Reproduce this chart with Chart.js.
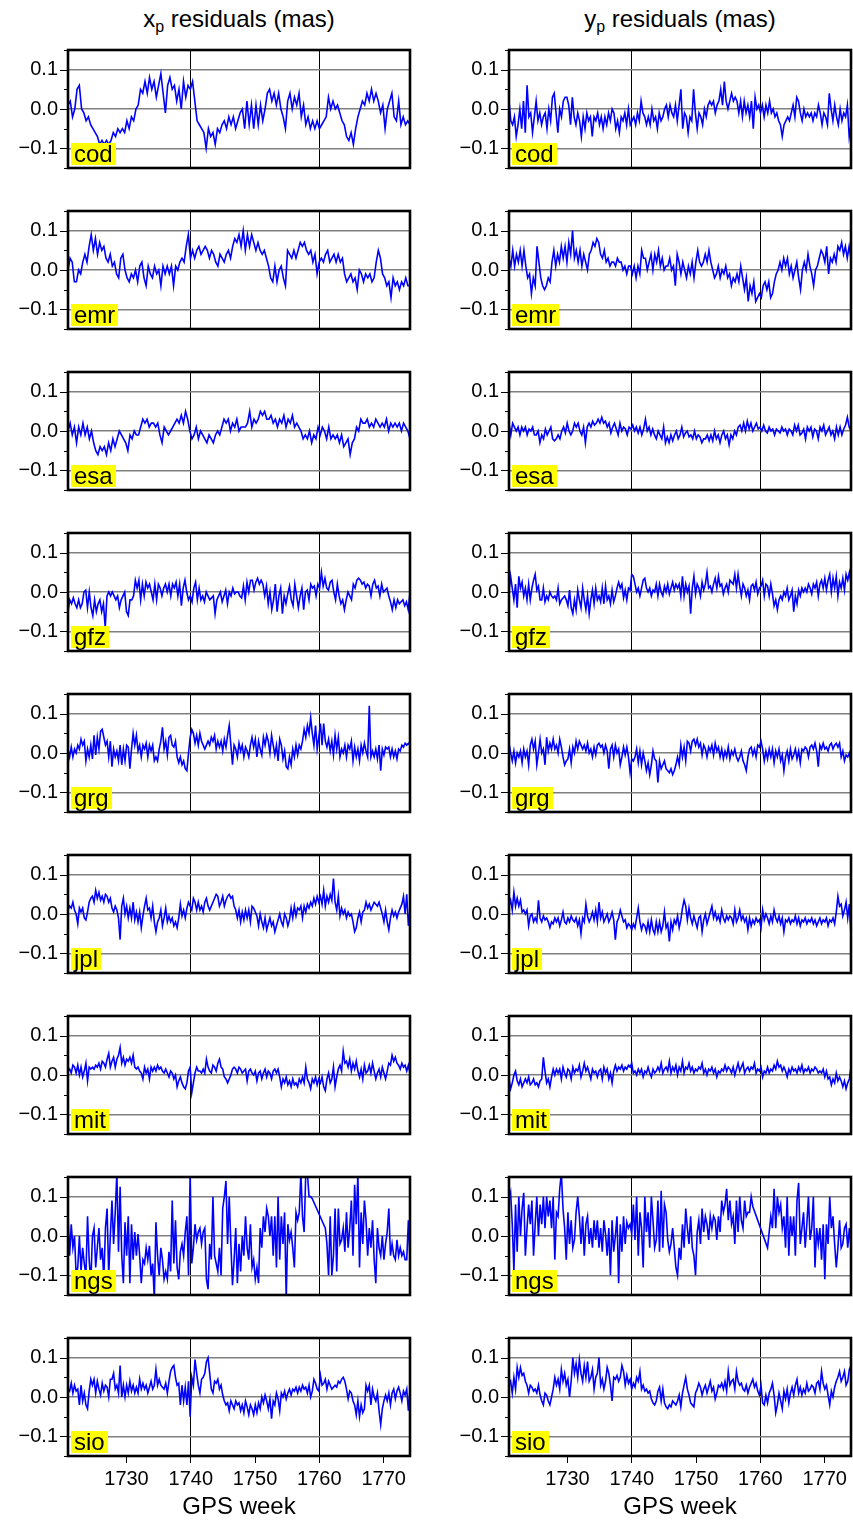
<!DOCTYPE html>
<html>
<head>
<meta charset="utf-8">
<script src="https://cdn.jsdelivr.net/npm/chart.js@4.4.1/dist/chart.umd.min.js"></script>
<style>
  body { margin: 0; background: #fff; }
  #page { position: relative; width: 853px; height: 1520px; overflow: hidden;
          font-family: 'Liberation Sans', Arial, Helvetica, sans-serif; color: #000; }
  .panel { position: absolute; }
  .head { position: absolute; width: 342px; text-align: center; font-size: 24px; }
  .head sub { font-size: 16px; vertical-align: -5px; line-height: 0; }
  .tag { position: absolute; background: #ffff00; font-size: 24px; line-height: 22px;
         height: 22px; padding: 0 3px; }
</style>
</head>
<body>
<div id="page"></div>
<script>
// residuals, in units of 0.01 mas, one value every ~2.5 days (null = no solution)
const xpCod = [1,2,-2,0,5,6,0,-1,-3,-2,-4,-5,-6,-7,-9,-8,-9,-8,-9,-8,-6,-7,-5,-6,-5,-6,-3,-5,-2,-3,0,1,5,4,7,4,8,5,7,3,6,9,4,-1,6,8,5,6,2,5,0,7,3,6,5,7,2,-3,-4,-5,-6,-10,-5,-7,-6,-9,-5,-6,-4,-3,-5,-2,-4,-2,-5,-3,-1,0,-5,2,-4,1,-5,1,-4,1,-3,0,4,5,2,4,1,4,0,-2,-5,2,4,0,3,1,4,-2,1,-4,-2,-5,-3,-5,-3,-5,-4,-3,-2,3,0,2,0,1,-1,-3,-4,-7,-8,-6,-9,-5,-2,0,2,1,4,2,5,2,4,2,-1,1,-5,0,2,4,-2,-3,2,-4,-2,-4,-3,-4];
const ypCod = [2,-3,-4,-2,-7,-4,0,-5,2,-6,6,-2,-1,-6,-2,2,-3,-1,-4,-2,-1,-5,0,-3,3,4,-1,-6,0,-2,2,3,3,1,-4,3,-2,-4,-1,-3,-7,-2,-5,-1,-3,-2,-7,-2,-3,-1,-4,-2,-5,-2,-4,-1,-3,0,-1,-5,-3,-6,-2,-3,-1,-4,0,-4,-3,-2,-4,-1,-3,2,-1,-2,-4,-2,-4,0,-3,-2,-5,-1,-3,-2,0,1,-2,1,-1,-2,1,-3,1,5,-5,-1,-2,-6,-2,-3,5,-1,-5,-1,-2,-4,0,-2,1,2,1,2,-1,1,2,5,1,7,2,0,2,4,2,3,2,-1,2,-2,2,-1,1,-2,2,-5,3,0,1,-1,1,-2,1,-1,2,-1,0,-2,-1,-3,-4,-7,-4,-3,-2,-3,-1,1,-2,3,2,-1,-3,0,-2,-1,-2,-1,-3,-1,-2,1,-1,-4,-1,-2,-4,4,0,-3,1,-2,-4,0,-3,-1,-2,1,-7,-4];
const xpEmr = [0,3,2,-3,-3,0,-1,2,4,2,6,9,5,8,4,7,5,6,3,2,4,1,2,-1,-2,3,4,0,-2,-3,-1,-2,0,-3,1,2,-2,-4,1,-1,-2,1,-1,0,-4,1,-1,1,-1,1,-4,1,0,2,3,2,6,9,3,5,3,5,6,4,5,6,5,3,5,4,2,1,4,3,2,4,5,3,6,8,7,9,6,10,5,9,6,9,7,5,7,5,4,5,3,1,-2,-3,1,-3,0,1,-2,-4,5,4,3,5,3,5,7,6,7,5,4,5,2,4,-1,2,3,2,4,5,2,3,4,2,4,2,3,-1,-3,-2,-1,-3,-2,-5,0,-1,-3,-1,-2,-1,-3,-2,2,5,3,-1,-2,-4,-3,-7,-2,-4,-3,-5,-3,-4,-2,-4,-4];
const ypEmr = [3,1,5,1,4,2,5,1,5,1,-2,-1,-6,-2,-4,6,2,-2,-4,-5,-4,-2,-3,2,5,1,4,2,6,3,6,2,7,4,10,3,5,2,5,1,4,2,0,4,5,7,6,8,7,4,3,5,2,3,1,2,2,1,3,2,2,0,1,-1,1,1,-1,1,-2,1,-1,5,3,3,0,2,4,0,4,2,5,1,3,0,1,1,3,0,1,-4,4,2,-1,2,0,-2,1,-1,2,-2,2,5,2,1,2,4,2,5,2,0,-2,-1,1,-2,0,-1,1,-2,-1,-4,-2,-3,-1,-3,1,-2,-5,-2,-8,-4,-6,-3,-8,-7,-6,-7,-4,-3,-5,-3,-7,-6,-3,-1,0,2,0,3,1,3,-1,1,-2,0,2,-2,-5,0,2,0,4,1,-1,-4,0,1,3,5,4,2,6,-1,3,2,4,2,6,5,7,4,6,3,6,3];
const xpEsa = [0,2,-1,1,-3,1,-1,2,-1,1,-2,0,-3,-5,-6,-4,-5,-4,-6,-3,-5,-2,-4,-2,0,-1,-2,-3,-5,-1,-2,0,-1,-1,1,3,2,3,1,2,2,1,2,-1,-3,1,0,-1,0,1,2,3,2,4,2,5,3,0,-2,-1,1,-2,0,-1,-2,-3,-1,-2,-3,-1,0,-1,1,3,2,3,0,2,1,3,0,1,1,1,2,5,1,3,2,3,5,4,5,3,3,4,2,3,1,3,2,4,1,3,2,4,1,2,1,0,-2,-1,-2,0,-3,-1,-2,1,-1,1,0,-2,1,-2,-1,-2,-1,-3,-1,-4,-3,-2,-6,-3,-2,1,0,3,2,2,3,1,2,1,3,2,1,2,1,3,0,2,1,2,1,2,0,2,1,0,-2];
const ypEsa = [2,-1,2,1,0,1,-1,1,0,1,-1,0.5,0,1,-1,-1,0,-3,-1,-2,0.5,-1,0,1,-2,-2.5,-2,-1,-2,0,1,-0.5,2,0,-1,0,2,1,2,0,-1,1,-3,1,2,1,2.5,1.5,2,3,2,3.5,2,2.5,1,2,-0.5,1,2,0.5,-1,2,0,1,0.5,-1,1,0.5,1.5,0,1,-0.5,1,-1,0.5,3,0,1,-1,0.5,-1,-2,0,-1,-2,1,-3,-1.5,-3,-1,-2.5,-1,0,-2,-1,1,-1.5,-0.5,0,-1.5,-1,-2,0,-2,-1,-1.5,-3,-2,-2,-1,-2.5,-1,-2.5,0,-2,-1,-3,-1,0,-2,-1,-3.5,-1,-2,0,-1,1,1.5,0,2,0,2.5,0.5,2,0,1,2,0.5,1,0,1.5,0,-0.5,1,0,0.5,-1,0.5,0,-0.5,1,0,0.5,-1,0.5,0,-1,1.5,0,1.5,-1,-0.5,0.5,-2,1,0,1,-1.5,0.5,0,-2,1,0,1.5,-1,0,1,-1,0,-2,1,-1,1,-1,0.5,1.5,3.5,1,0];
const xpGfz = [-5,-2,-3,-1.5,-3,-4,-2,-4,-3,0,0.5,-4,0,-4,-6,-2,-5,-3,-2,-5,-3,-9,-1,0,-1,0,-1,-2,-1,-4,-2,-1,0,-5,-6,-2,-2,-1,3,1,3,-2,2,-1,2.5,1,2,0,-2,2,-2,2,1,-1,1,2,0,2,-1,2,1,2.5,-1,2,-3.5,1,3,0,-2,-1,-2.5,1,2.5,-2,1,-2,-1,-2.5,0,-1,-2,-1.5,-1,-5.5,-2,-1,0,-2.5,-1,0.5,-3,0,-1,1,-0.5,0,0,-1,-1.5,1.5,-2,2.5,0,3,3,0.5,2.5,3.5,2,3,2,-1,1.5,-3,0,-4.5,-2,2,-5,-1,1,-5.5,-1,-3,-0.5,1.5,-2,-3.5,2,-1,-4,-1,1,-4.5,0,0.5,-2,2,1,1.5,-1,2,1,5,1.5,3.5,1,0.5,2.5,3,0,-2,2,-1,-3,-2,-4.5,-2,0,-1,-2,2,1,3,3.5,3,2,2.5,1,2,1.5,-1,2,3,1,1.5,-1,2,0,0.5,1,-1,-2.5,-4.5,-2,-4,-2,-3,-2.5,-2,-3.5,-2.5,-4.5,0];
const ypGfz = [0,4,1,-2,2,-4,4,1,2.5,-1,1,-2,2,-2,1,3,4.5,0.5,1.5,-2,-2,1,-2.5,-1,-2,0,-1,-1.5,-1,-2,1,-3,-2,-1.5,-1,-2,-3.5,0.5,-4,-5.5,-2,-4.5,0.5,-2,-4,1,-2,-4.5,-1,-5.5,-2,0.5,-3,1,-2,-1,-2.5,1,-3,1.5,-2,-1,-3,0.5,-2.5,-1,1,2.5,1,2,-1.5,0.5,-2,1,0.5,4.5,4,2,0,1,-1,1,3,3.5,1,0,1,-1,0.5,0,2,-1,2,0,-1,1.5,0,2,-0.5,1,2.5,0.5,2,1,2,-1,4,-1,2,0,1.5,-5.5,1,4,-0.5,2,1,-1,2.5,0.5,2,5,1,1.5,0,2,3.5,1,4,1.5,2,-0.5,1,2,0,3,2.5,2,4.5,1,4.5,1.5,-1,2,1,-1,0.5,-2,1.5,2,0.5,2.5,-0.5,1,1.5,3,-1,2,1.5,-1,2,-0.5,-3.5,-2,-4.5,-2,-1,-2,0,-1,1,-2,-1,0.5,-5,-1,-3,0.5,-1,1,0,1,0,2,1,-0.5,2,1,2.5,-1,2,3,1,3.5,0.5,3,4.5,0,3.5,1,4,-1,2.5,1,3.5,0.5,4.5,3,5,2];
const xpGrg = [1,-1,1.5,-1,1,0,2,1,3.5,2,3,-2,1,-1,2,-1.5,4.5,-0.5,4,1,5.5,6,4,2,3,-1,3,-3.5,1,-1,0.5,-2,2,-3,1,-2,2,1.5,-4,1,5,2,4.5,0.5,2,-1,2,1,2.5,-1,2,0.5,2,-2,-1,-2,1,3,6.5,1,3,-0.5,4,4.5,2,1.5,3,-1,-2.5,-1,-3,-2,-4,-4.5,0,4,6,5,2.5,4.5,2,5,3,2,1,2,3,2,4,3,4.5,1,3,1.5,3,0.5,3.5,1.5,4.5,7,2,-3,2,1,-1,2.5,0.5,2,-1,1.5,0.5,-1,2,4,1.5,3.5,-1,3,1,-0.5,4,2,4.5,3,0,4.5,2,-0.5,2,-2,3.5,2,-1.5,0.5,-3.5,-4,-1,-3,1,-1,2,-0.5,2,1,3,6,4,7,5,9,5,2,7,1,4,7.5,2,7.5,3,1.5,3.5,0.5,3,-0.5,4.5,1,4,-1,1,0,2,-1,2,1,3,-2,1.5,-1,1,-2,2,0,2.5,0.5,-1,12,-1,0.5,-1,1,-1.5,2,-4.5,1,-0.5,1.5,1,1.5,-1,1,-1,0.5,-1.5,1,0.5,2,1.5,2.5,2,2.5,2];
const ypGrg = [2.5,0,-2,0.5,-2.5,0,-1,0.5,-2.5,1,-1,0.5,-3,2,3.5,1,3,-3,0,3.5,0,1,-3,4,0.5,2.5,1,3.5,1,2,0,3.5,1.5,-1,-3,-2,-1.5,1,-2.5,1.5,0,3,1,3,2,1,2,0.5,2.5,0,1,-1,1.5,-0.5,2,2.5,1.5,2,0,2,0.5,-4,1,2,-1,2,0,1,-3,-1,1.5,-0.5,1.5,-1,-5,-1.5,-2,-1,1,-2.5,0.5,-3,0,-2,-4.5,-2.5,-5.5,-3,0.5,-1.5,-2,-7.5,-2,-4,-3,-2,-4,-4.5,-5,-4,-5.5,-4.5,-3,-1,-3,2,-1,1.5,-2,3,2.5,0.5,3,3.5,2,3.5,1.5,2.5,-0.5,2,1,-1,1.5,0.5,2,-0.5,2.5,0.5,1.5,-1,1,-1.5,0.5,-1,1.5,-1.5,0.5,-0.5,1,-1,-2,-1,0.5,-2,-3,-4.5,-1,1,1.5,-0.5,1,-1,2,1.5,3,1,-2,0.5,-1.5,1,-1,1,-2.5,0.5,-1,1,-2,-0.5,-4.5,-1,0.5,-2,1,-1.5,-0.5,1,-1.5,0.5,-2.5,1,0.5,1.5,1,-1,1.5,2,1,2.5,0.5,-3.5,2,1,2.5,1,1.5,0.5,2,2.5,1,2,2.5,1.5,2.5,-1,0.5,-2,-0.5,-1,0,-3];
const xpJpl = [1,2,1.5,3,1,0,-2.5,1.5,0.5,1.5,-1,-1.5,0.5,3,4,4.5,3,6,4,5.5,3.5,4.5,3,5,4.5,3,4,1.5,0.5,2,1,-1,-6.5,2,4,0,2,-1,1.5,-1,3,-1.5,0.5,-2,0.5,-3.5,-0.5,2,4,1,1.5,-1,2,-2,-4.5,-2,-1,1,-3,-1,1.5,-2,-0.5,-2,-1,-3,-2,-3.5,-1,2.5,-0.5,1,-1,1.5,3,2,1,4,3,1,3,1,2,0.5,3,4,2,1,2,3,4,5,4.5,2,3,4.5,2,3.5,4.5,5,4,4.5,2,1,-1,1,-2,0.5,-1.5,1,-1,1,-2,2,1.5,0.5,-0.5,-3,0,-2,-3.5,-1,-4,-2.5,-1,-3,-2,-4.5,-3,-1.5,0,-2,-3,0,-1,-3,-1.5,1.5,-1,2,-0.5,1.5,1,2,-1,2,0.5,2.5,1.5,3,2,4,2.5,4.5,3,4.5,2.5,6,2,4.5,3,5,3.5,9,3,1,4.5,-0.5,1.5,0,1,-1,0.5,-0.5,0,-2,-4.5,-3.5,-1,0.5,-2,0.5,1,3,1.5,2.5,1,2,3,2.5,2,3,1.5,0,-2,1,-2,-4,-1,1,-0.5,0.5,-1,0.5,1.5,2.5,4.5,0,5,-3,1];
const ypJpl = [2,3.5,1,5.5,2,4,2,3.5,0.5,1,0,1,-3,-0.5,0,-2,-1,-2,3.5,-1,-2,-0.5,-1.5,-1,-2,-3.5,-2,-2.5,-1,-2,-1,-3,-1.5,0.5,-2,-2.5,-1,-2,-0.5,-1.5,-2,-1,-3,-1.5,-5,-1,-2,2.5,-0.5,-2,-1,0.5,-1.5,1,-2,3,-1,0.5,-2,-1,0,-2,-1,0.5,-1.5,-6.5,-2,-1,1,-0.5,-2,-1.5,-3.5,-2.5,-3,-4,-2.5,-3.5,-1,1.5,-2,-4,-2.5,-3,-4.5,-2,-4.5,-1.5,-4,-5,-2,-4.5,-2,-4.5,-3,0.5,-3.5,-2.5,-7,-2,-4,-1.5,-2.5,-0.5,-3.5,-1.5,1.5,3.5,2,-1.5,1.5,-1,-2.5,-0.5,-2,-3.5,-1,-0.5,-4.5,-1.5,0,-2.5,-1,0.5,2,-1,0.5,-1.5,-0.5,-2,1,-1,-2,-0.5,-1.5,-0.5,-1,-2.5,1,-2,-1,1,-1.5,-0.5,-2,-1,-4,-1,-3,-1.5,-2.5,-1,-2,-1.5,-3.5,1,-1.5,0,-1,-2.5,-0.5,-2,1,-1,-2,-0.5,-2.5,-1,-4.5,-1.5,-2,-1,-2.5,-1.5,-2,-0.5,-2.5,-1,-3,-1.5,-2,-1,-2.5,-1.5,-2,-1,-2.5,-1.5,-3,-2,-1,-2.5,-1.5,-2,-1,-3,-1.5,-2,-1,-2.5,0.5,4.5,2,2.5,-0.5,1,3,-1,2.5,-5.5];
const xpMit = [1,1.5,0.5,2.5,2,0.5,2.5,0,2,-0.5,1,3,-1.5,2,1.5,2,1.5,2.5,2,3,1.5,3.5,3,2,4,5.5,2,3.5,4.5,2,4,5,7,3,4.5,2.5,4,3.5,4.5,3,5,2,1.5,2,1,0.5,-1,2,0.5,1.5,-1,2,1,2,1,2.5,1.5,2,1,0.5,1.5,0.5,-0.5,1,0.5,-1,0,-3,-1.5,-0.5,-2,-3,-3.5,-2,1,2,-4.5,-2,0.5,2,1,1,0.5,1.5,0.5,4,2,1,0.5,2.5,2,1,3,4,2,1.5,-0.5,-1,-2,-1,0,1.5,2,1.5,0.5,2,1.5,0.5,1,1.5,-1.5,1,1.5,0.5,0,1,-1.5,0.5,1,-1,0.5,1.5,-0.5,1,0.5,-1,1,1.5,0.5,1.5,-0.5,-3,-1,-2,-0.5,-2.5,-1.5,-3,-1,-2.5,-2,-3,-1,-2,-0.5,-2,2,-1,-2,-3.5,-1,-2,-0.5,-2.5,-1,-2,-0.5,-3,-4,-1,0.5,-2,-1,2,-3,-0.5,1.5,2.5,1,6,3,3.5,2,4,1,3,1.5,3.5,1,-0.5,1.5,-1,2.5,0.5,1,2.5,0.5,3,1,-1,0.5,1.5,-0.5,2,0.5,-1,1,3,2.5,5,3.5,4.5,3,2.5,1.5,3,2,2.5,1,2.5,0.5];
const ypMit = [-1,-3.5,-2,0,1,-1.5,-2.5,-1,-3,-2,-1,-2,-0.5,-2.5,-2,-1,-2.5,-2,-3,-1.5,-1,4.5,1,-2,-1,-3,-0.5,1.5,0,1.5,0.5,1.5,-1,2,0.5,-0.5,1.5,1,-1,2,0.5,1.5,1,2.5,-0.5,1,3,1,2,0.5,-1,1.5,0.5,1,-0.5,1,1.5,-1,2,0.5,1.5,-1,0.5,-2,1,2.5,1,2,1.5,2.5,1,2,1.5,2.5,2,3,0.5,1,0,1.5,0.5,1.5,-0.5,1,0.5,2,0.5,-0.5,1.5,0.5,1,2,1,3,0.5,1.5,2,1,3.5,0.5,2,1,2.5,0,2,1,3.5,0.5,2,1.5,3,1,2,0.5,1.5,1,2,1.5,3,0.5,1.5,0,1.5,1,2,0.5,1.5,-0.5,1,0.5,1.5,1,2.5,1,2,1.5,0.5,2,0,1.5,3,1,2,3,0.5,1.5,2,1,2,1.5,3,0.5,1.5,1,2,-0.5,1,0.5,2,0.5,1.5,1,2.5,1.5,3.5,2,2.5,1,2,1,-0.5,1.5,0.5,2,1,1.5,0.5,2,1,2.5,0.5,1.5,1,2,0.5,1.5,1,2,1.5,0.5,1,0.5,1.5,-0.5,1,-1,-0.5,-2.5,-1,-2,0.5,-1.5,-0.5,-1.5,-3,-1.5,-3.5,-2,-1,2];
const xpNgs = [5,-5,3,-3,0,-10,-8,0,-9,-3,-7,-10,5,-6,-12,0,2,-8,-3,2,-6,-3,-11,2,7,-10,0,9,-2,6,16,-4,12.5,-5,-12,3.5,-5,5,-12,3,-6,1,-5,0.5,-5,-12,-6,-7,-3,-6,-2.5,-10,-7,-16,3.5,-5,-10,-3,-6,-11,-9,-11,-4,-9,9,-7,4,-8,-11,-4,-2,-5,1,5,-10,16,-7,-3,3,-1,1,2,-2,1,2,-11,-13.5,-2,-6,10,-5,-7,-9,-3,-10,7,10,14,-2,10,-2,-12.5,-6,2,-12,-2,-9,0,-5,5,-3,-6,3,-8,-6,-11,-8,-12,2,-3,5,1,7,5,0,5,-5,5,-8,10,-6,5,-2,6,-16,3,-1,1,-3,-8,6,4,6,16,5,1,16,16,10,10,9.5,null,null,null,null,null,null,null,2,-2,-10,5,-10,-5,7,-9,7,-2,-1,2,-4,6,-3,2,9,-5,13,3,16,-8,6,-2,9,4,-5,2,-3,4,-6,-12,2,-3,-5,0,-6,-2,1,7,-5,-2,-5,-6,-1,-5,-3,-5,-4,-6,-6,4,-6];
const ypNgs = [9,11,3,-9,8,-4,10,0,7,11,-5,2,8,3,9,-5,3,10,0,8,3,10,2,10,5,9,2,10,-6,6,5,12,16,7,2,-6,6,-2,4,-3,-1,6,10,5,-2,5,-5,3,5,-2,2,-3,4,-1,4,-3,2,-4,4,0.5,-5,2,-10,4,-4,0,5,-12,3,-4,5,-2,3.5,2,3,0.5,8,-1,10,-5,6,2,-8,10,1,6,-3,10,4,-3,-1,9,-4,11.5,-3,8,6,-1,-4,-2,2,-3,-8,-10,-3,-6,3,-3,7,2,-2,5,-3,-5,-10,1,4,-2,7,1,5,3,-1,5,2,5,4,-1,5,1,9,6,8,12,4,9,3,5,-2,9,1,10,4,2,9,5,6,6,10,7.5,null,null,null,null,null,null,null,null,-3,1,5,2,12,2,10,6,8,2,5,-3,10,-5,5,0,5,-5,9,13.5,-2,2,6,-3,3,10,-1,2,10,-8,2,-2,2,-6,3,-11,3,-2,10,2,5,-2,-8,-3,4,-3,-2,2,3,-3,2,-3];
const xpSio = [2,1.5,3.5,1,3,1.5,2,-2,3,-1,1,-2,-3,1.5,4.5,3,4.5,1,4,2,0.5,3.5,1.5,3,2.5,0,4.5,4.5,6,2,3,1,8,0,3,0,3,1,4,1.5,3,1,2.5,1,4.5,2,3.5,2,3,1,2.5,4,2,3,7,3,4.5,3,2.5,2,3.5,1,4,6.5,7.5,8,5,3,3.5,-2,3,-1,2.5,-2,4,-5,5,3,9.5,6,3,1,4.5,5,6,9,10,6,2,1,4,3.5,4.5,2,3,0.5,-1,-2,-1.5,-3.5,-1,-2,-3,-1,-2,-1.5,-3.5,-2,-4,-1,-2.5,-4.5,-2,-3,-4.5,-2,-4,-1.5,-3,0,-1.5,0.5,-1,-3,-0.5,-5.5,-1,-2,1,-0.5,-3.5,1,0,1.5,-0.5,1,2,0.5,2,1.5,2.5,1,2.5,1.5,3,2,2.5,1,3,0,1.5,4.5,3.5,2,1.5,5.5,3,3.5,4.5,2,4,3,2,2.5,3,2.5,4,3.5,4.5,5,4,2,-0.5,1.5,1,-1,-2,-4.5,-1,-5,-2,-4,-3,3,1.5,3,-2,2,0,-1,1,-3.5,-7,-3,-1,0.5,-1,1,-2,1,2,-0.5,1.5,2.5,1,-1,1.5,0.5,2,-3.5,2];
const ypSio = [3,4,1,5,2,7.5,5,7.5,5.5,6,4,3,1,3,2.5,1.5,2,1,3,0.5,-1,-2,1,0.5,-1,-2,0,2,5,3,4.5,2,7,4,6,3,4.5,0,4,10,6,8.5,5,9.5,6,4,8,5,9,4,5,7,2,5,6,10,3,4.5,2,4,7.5,6,3,-1,5,4.5,5.5,4,5,8,6.5,3,5.5,3.5,4.5,2,3.5,2.5,5,4,6.5,2,3,1.5,2,1,1.5,-0.5,-1.5,-2,-1,1.5,2.5,-1,2,-1.5,-2.5,-3,-2,-2.5,-1,-1.5,-2,-1,0.5,-2.5,1,3,5,2,0.5,-1.5,-2,-2.5,1,2,3.5,2.5,0.5,2,3,1,2.5,4,1.5,2.5,-0.5,1,3,2.5,3.5,2,4,1.5,6.5,3,4,4.5,2,6.5,4,3,3.5,2,1.5,3,1,2.5,3.5,4.5,2.5,3.5,1.5,0.5,3,-1.5,-2,0.5,-1.5,1,2,3.5,0.5,-4,-2,1,-1,-3,1.5,-0.5,2,-1.5,1,2.5,0.5,3,4.5,1,2.5,0.5,2,1,3.5,1.5,2,3,2.5,1,3.5,4,2,6.5,3.5,2,3,0.5,-2,1.5,0,2.5,4,5,6.5,4,5,6.5,3,4,7,8];

const centers = ['cod', 'emr', 'esa', 'gfz', 'grg', 'jpl', 'mit', 'ngs', 'sio'];
const xpSeries = [xpCod, xpEmr, xpEsa, xpGfz, xpGrg, xpJpl, xpMit, xpNgs, xpSio];
const ypSeries = [ypCod, ypEmr, ypEsa, ypGfz, ypGrg, ypJpl, ypMit, ypNgs, ypSio];
const firstWeek = 1720.9, lastWeek = 1774.1;
const xTickWeeks = [1730, 1740, 1750, 1760, 1770];
const xGridWeeks = [1740, 1760];
const yTickValues = [-0.15, -0.1, -0.05, 0, 0.05, 0.1, 0.15];
const yLabelValues = [-0.1, 0, 0.1];
const yLabelTexts = ['\u22120.1', '0.0', '0.1'];
const columnTitles = ['x<sub>p</sub> residuals (mas)', 'y<sub>p</sub> residuals (mas)'];
const axisTitle = 'GPS week';

const FONT = "'Liberation Sans', Arial, Helvetica, sans-serif";
const colLeft = [68, 509];
const plotW = 342, plotH = 118, rowTop0 = 50, rowStep = 161, axisW = 68;

const page = document.getElementById('page');

function toPoints(vals) {
  const n = vals.length;
  return vals.map((v, i) => ({
    x: firstWeek + (lastWeek - firstWeek) * i / (n - 1),
    y: v === null ? null : v / 100
  }));
}
const near = (a, b) => Math.abs(a - b) < 1e-6;
const isMajorY = v => yLabelValues.some(m => near(m, v));

const framePlugin = {
  id: 'frame',
  afterDraw(chart) {
    const { ctx, chartArea: a, scales: { y } } = chart;
    ctx.save();
    ctx.strokeStyle = '#000';
    ctx.lineWidth = 1;
    yTickValues.forEach(v => {
      const py = Math.round(y.getPixelForValue(v)) + 0.5;
      const len = isMajorY(v) ? 8 : 4;
      ctx.beginPath();
      ctx.moveTo(a.left - len, py);
      ctx.lineTo(a.left, py);
      ctx.stroke();
    });
    ctx.lineWidth = 2.6;
    ctx.strokeRect(a.left, a.top, a.right - a.left, a.bottom - a.top);
    ctx.restore();
  }
};

function makePanel(vals, col, row, name) {
  const bottom = row === centers.length - 1;
  const top = rowTop0 + row * rowStep;
  const padTop = 8, padRight = 6, xH = bottom ? 46 : 6;
  const w = axisW + plotW + padRight, h = padTop + plotH + xH;

  const box = document.createElement('div');
  box.className = 'panel';
  box.style.left = (colLeft[col] - axisW) + 'px';
  box.style.top = (top - padTop) + 'px';
  const canvas = document.createElement('canvas');
  canvas.width = w; canvas.height = h;
  canvas.style.width = w + 'px'; canvas.style.height = h + 'px';
  box.appendChild(canvas);
  page.appendChild(box);

  new Chart(canvas, {
    type: 'line',
    data: {
      datasets: [{
        data: toPoints(vals),
        borderColor: '#0000ff',
        borderWidth: 1.6,
        pointRadius: 0,
        tension: 0,
        spanGaps: true
      }]
    },
    options: {
      responsive: false,
      animation: false,
      layout: { padding: { left: 0, right: padRight, top: padTop, bottom: 0 } },
      plugins: { legend: { display: false }, tooltip: { enabled: false } },
      scales: {
        x: {
          type: 'linear',
          min: firstWeek,
          max: lastWeek,
          afterBuildTicks: s => { s.ticks = xTickWeeks.map(v => ({ value: v })); },
          afterFit: s => { s.height = xH; s.paddingLeft = 0; s.paddingRight = 0; },
          border: { display: false },
          grid: {
            color: c => xGridWeeks.includes(c.tick && c.tick.value) ? '#000' : 'rgba(0,0,0,0)',
            lineWidth: 1,
            drawTicks: bottom,
            tickLength: 7,
            tickColor: '#000',
            tickWidth: 1
          },
          ticks: {
            display: bottom,
            autoSkip: false,
            maxRotation: 0,
            padding: 4,
            color: '#000',
            font: { family: FONT, size: 20 },
            callback: v => String(v)
          }
        },
        y: {
          min: -0.15,
          max: 0.15,
          afterBuildTicks: s => { s.ticks = yTickValues.map(v => ({ value: v })); },
          afterFit: s => { s.width = axisW; s.paddingTop = 0; s.paddingBottom = 0; },
          border: { display: false },
          grid: {
            color: c => (c.tick && isMajorY(c.tick.value)) ? '#808080' : 'rgba(0,0,0,0)',
            lineWidth: 1.5,
            drawTicks: false
          },
          ticks: {
            autoSkip: false,
            padding: 10,
            color: '#000',
            font: { family: FONT, size: 20 },
            callback: v => {
              const k = yLabelValues.findIndex(m => near(m, v));
              return k < 0 ? '' : yLabelTexts[k];
            }
          }
        }
      }
    },
    plugins: [framePlugin]
  });

  const tag = document.createElement('div');
  tag.className = 'tag';
  tag.textContent = name;
  tag.style.left = (colLeft[col] + 3) + 'px';
  tag.style.top = (top + plotH - 25) + 'px';
  page.appendChild(tag);
}

centers.forEach((name, r) => {
  makePanel(xpSeries[r], 0, r, name);
  makePanel(ypSeries[r], 1, r, name);
});

columnTitles.forEach((t, c) => {
  const d = document.createElement('div');
  d.className = 'head';
  d.innerHTML = t;
  d.style.left = colLeft[c] + 'px';
  d.style.top = '5px';
  page.appendChild(d);
  const g = document.createElement('div');
  g.className = 'head';
  g.textContent = axisTitle;
  g.style.left = colLeft[c] + 'px';
  g.style.top = '1492px';
  page.appendChild(g);
});
</script>
</body>
</html>
